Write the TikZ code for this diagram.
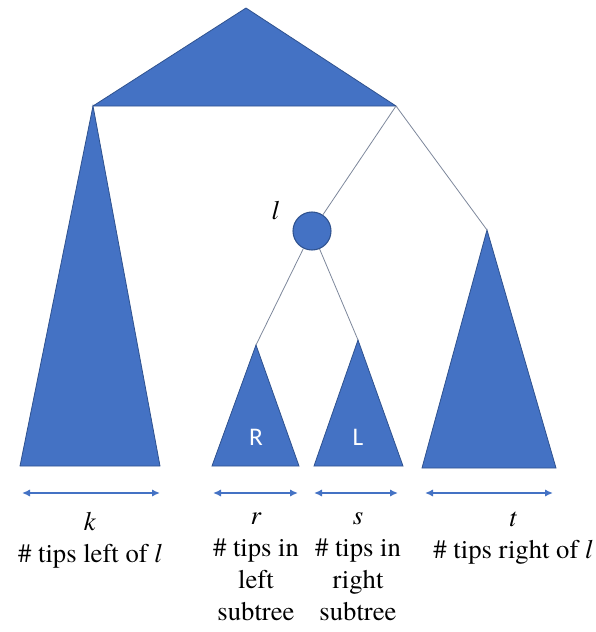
\documentclass[tikz,border=0pt]{standalone}
\usepackage{fontspec}
\setmainfont{texgyretermes}[Extension=.otf, UprightFont=*-regular, ItalicFont=*-italic, BoldFont=*-bold, BoldItalicFont=*-bolditalic]
\newfontfamily\cladefont{Carlito}
\usetikzlibrary{arrows.meta,positioning}
\definecolor{treeblue}{RGB}{68,114,196}
\definecolor{treeedge}{RGB}{47,82,143}
\definecolor{branchgrey}{RGB}{125,135,155}

\begin{document}
\begin{tikzpicture}[
  x=0.75pt, y=-0.75pt,
  clade/.style={fill=treeblue, draw=treeedge, line width=0.6pt, line join=miter},
  branch/.style={draw=branchgrey, line width=0.6pt},
  span/.style={{Latex[length=6pt,width=5.5pt]}-{Latex[length=6pt,width=5.5pt]}, draw=treeblue, line width=1.2pt},
  count/.style={font=\rmfamily\fontsize{20}{24}\selectfont, align=center, inner sep=0pt, anchor=north},
  subname/.style={font=\cladefont\fontsize{19}{22}\selectfont, text=white, inner sep=0pt}
]
\useasboundingbox (0,0) rectangle (596,632);
% clade corners
\coordinate (root) at (246,8);
\coordinate (topL) at (93,106);
\coordinate (topR) at (396,106);
\coordinate (kL) at (20,466);
\coordinate (kR) at (160,466);
\coordinate (rtop) at (256,345);
\coordinate (rL) at (212,466);
\coordinate (rR) at (299,466);
\coordinate (stop) at (358,340);
\coordinate (sL) at (314,466);
\coordinate (sR) at (403,466);
\coordinate (ttop) at (487,230);
\coordinate (tL) at (422,468);
\coordinate (tR) at (556,468);
% clades
\draw[clade] (root) -- (topR) -- (topL) -- cycle;
\draw[clade] (topL) -- (kR) -- (kL) -- cycle;
\draw[clade] (rtop) -- (rR) -- (rL) -- cycle;
\draw[clade] (stop) -- (sR) -- (sL) -- cycle;
\draw[clade] (ttop) -- (tR) -- (tL) -- cycle;
\node[subname] (Rname) at (256,437) {R};
\node[subname] (Lname) at (358,437) {L};
% edge l
\node[circle, fill=treeblue, draw=treeedge, line width=0.8pt, minimum size=28.5pt, inner sep=0pt,
  label={[font=\rmfamily\fontsize{20}{22}\selectfont, label distance=7pt]168:\textit{l}}] (lnode) at (312,231) {};
\draw[branch] (topR) -- (lnode);
\draw[branch] (topR) -- (ttop);
\draw[branch] (lnode) -- (rtop);
\draw[branch] (lnode) -- (stop);
% tip counts
\draw[span] (22,493) -- (160,493);
\draw[span] (213,493) -- (298,493);
\draw[span] (314,493) -- (398,493);
\draw[span] (425,493) -- (553,493);
\node[count] (kcount) at (90,512) {\textit{k}\\\# tips left of \textit{l}};
\node[count] (rcount) at (256,512) {\textit{r}\\\# tips in\\left\\subtree};
\node[count] (scount) at (358,512) {\textit{s}\\\# tips in\\right\\subtree};
\node[count] (tcount) at (513,512) {\textit{t}\\\# tips right of \textit{l}};
\end{tikzpicture}
\end{document}
